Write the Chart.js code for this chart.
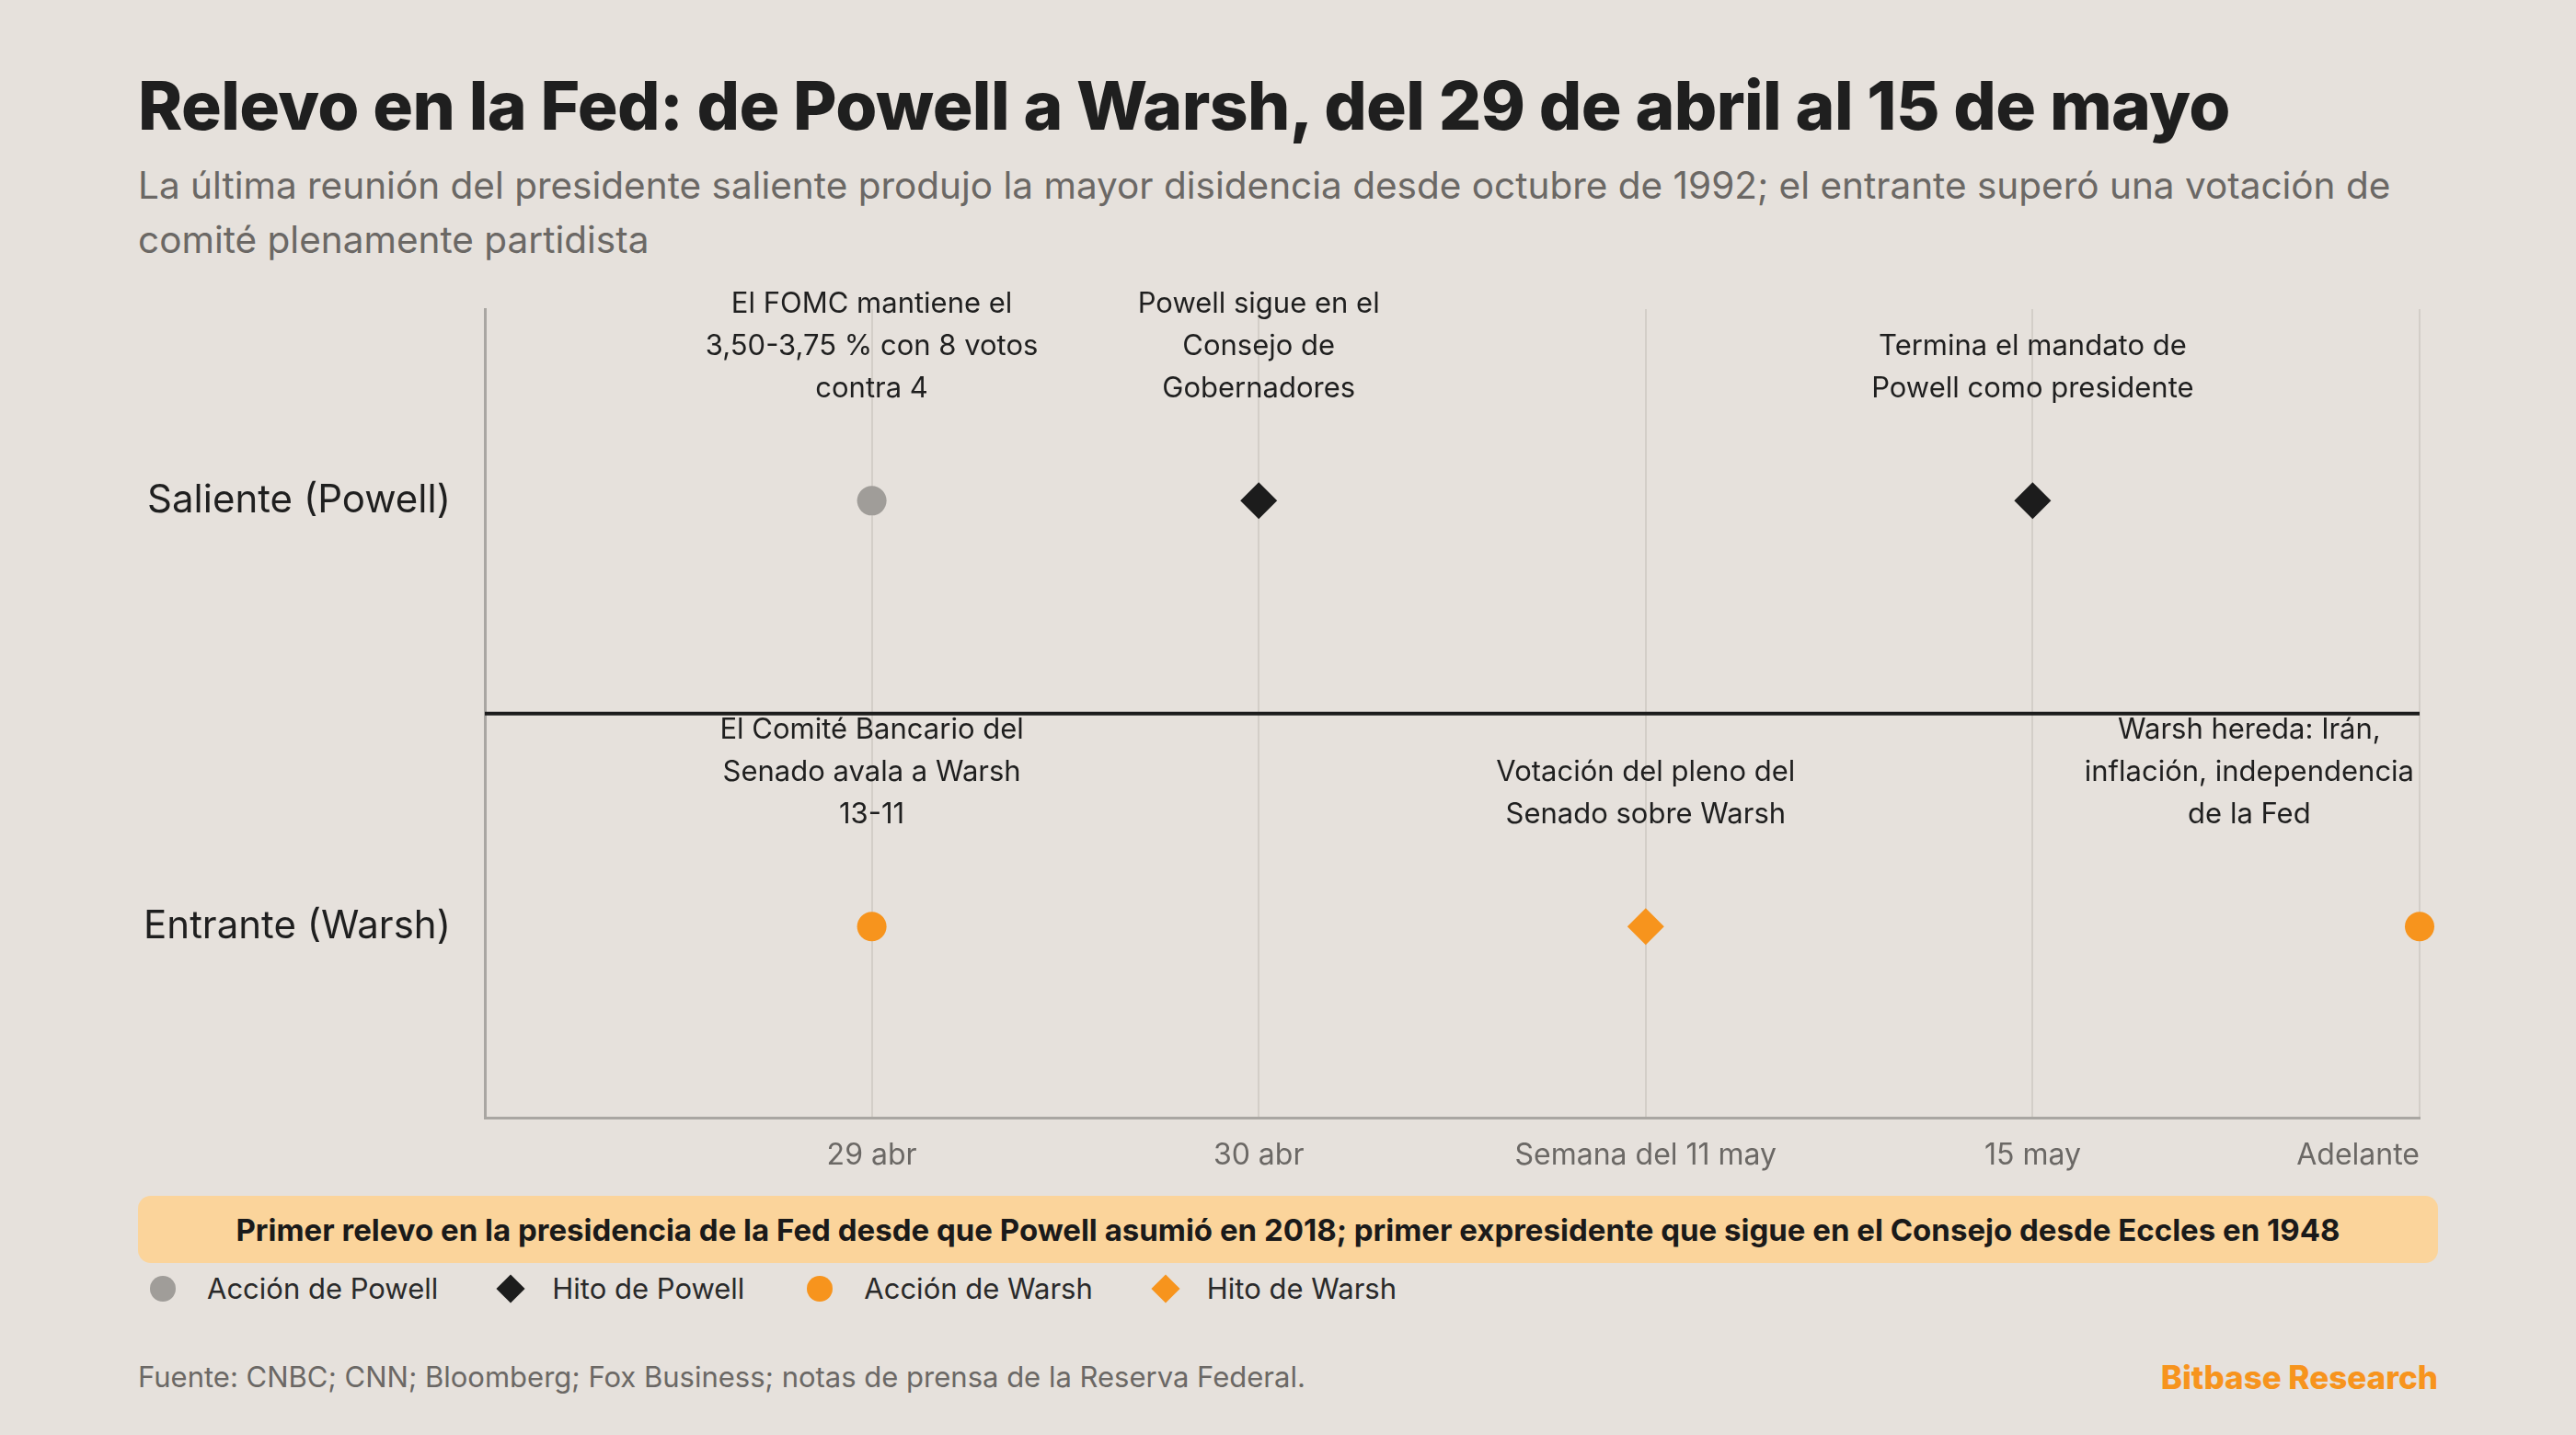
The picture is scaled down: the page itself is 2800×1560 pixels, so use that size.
<!DOCTYPE html>
<html><head><meta charset="utf-8">
<script src="https://cdn.jsdelivr.net/npm/chart.js@4"></script>
<style>
body{margin:0;width:2800px;height:1560px;background:#e6e1dc;font-family:Inter,"Noto Sans",sans-serif;position:relative;overflow:hidden;color:#1f1f1f}
#title{position:absolute;left:150px;top:70px;font-size:73px;font-weight:800;letter-spacing:-0.6px}
#sub{position:absolute;left:150px;top:172px;width:2500px;font-size:40.5px;line-height:59px;color:#6b6865}
#wrap{position:absolute;left:0;top:300px;width:2800px;height:998px}
#banner{position:absolute;left:150px;top:1300px;width:2500px;height:73px;background:#fbd49b;border-radius:14px;display:flex;align-items:center;justify-content:center;font-size:33px;font-weight:700;color:#1a1a1a}
#legend{position:absolute;left:163px;top:1382px;display:flex;gap:0;font-size:31px;color:#2a2a2a}
#legend div{display:flex;align-items:center;margin-right:68px}
#legend span{display:inline-block;margin-right:34px}
#src{position:absolute;left:150px;top:1478px;font-size:31px;color:#6b6865}
#brand{position:absolute;right:150px;top:1476px;font-size:35px;font-weight:800;color:#f7941d}
</style></head><body>
<div id="title">Relevo en la Fed: de Powell a Warsh, del 29 de abril al 15 de mayo</div>
<div id="sub">La última reunión del presidente saliente produjo la mayor disidencia desde octubre de 1992; el entrante superó una votación de comité plenamente partidista</div>
<div id="wrap"><canvas id="c"></canvas></div>
<div id="banner">Primer relevo en la presidencia de la Fed desde que Powell asumió en 2018; primer expresidente que sigue en el Consejo desde Eccles en 1948</div>
<div id="legend">
<div><span style="width:28px;height:28px;border-radius:50%;background:#a09d99"></span>Acción de Powell</div>
<div><span style="width:22px;height:22px;transform:rotate(45deg);background:#1c1c1c"></span>Hito de Powell</div>
<div><span style="width:28px;height:28px;border-radius:50%;background:#f7941d"></span>Acción de Warsh</div>
<div><span style="width:22px;height:22px;transform:rotate(45deg);background:#f7941d"></span>Hito de Warsh</div>
</div>
<div id="src">Fuente: CNBC; CNN; Bloomberg; Fox Business; notas de prensa de la Reserva Federal.</div>
<div id="brand">Bitbase Research</div>
<script>
const categories=["29 abr","30 abr","Semana del 11 may","15 may","Adelante"];
const rows=["Saliente (Powell)","Entrante (Warsh)"];
const powellAction=[{x:0,y:1}];
const powellMilestone=[{x:1,y:1},{x:3,y:1}];
const warshAction=[{x:0,y:0},{x:4,y:0}];
const warshMilestone=[{x:2,y:0}];
const annotations=[
 {x:0,y:1,text:["El FOMC mantiene el","3,50-3,75 % con 8 votos","contra 4"]},
 {x:1,y:1,text:["Powell sigue en el","Consejo de","Gobernadores"]},
 {x:3,y:1,text:["Termina el mandato de","Powell como presidente"]},
 {x:0,y:0,text:["El Comité Bancario del","Senado avala a Warsh","13-11"]},
 {x:2,y:0,text:["Votación del pleno del","Senado sobre Warsh"]},
 {x:4,y:0,text:["Warsh hereda: Irán,","inflación, independencia","de la Fed"]}
];
const FONT='Inter, "Noto Sans", sans-serif';
const textPlugin={id:'txt',afterDatasetsDraw(ch){
 const c=ch.ctx,xs=ch.scales.x,ys=ch.scales.y,a=ch.chartArea;
 c.save();c.font='31px '+FONT;c.fillStyle='#1f1f1f';c.textAlign='center';c.textBaseline='alphabetic';
 annotations.forEach(an=>{
  let px=xs.getPixelForValue(an.x),py=ys.getPixelForValue(an.y);
  const w=Math.max(...an.text.map(t=>c.measureText(t).width));
  px=Math.min(px,a.right-w/2-6);
  const n=an.text.length;
  an.text.forEach((t,i)=>c.fillText(t,px,py-112-(n-1-i)*46));
 });
 c.font='42px '+FONT;c.textAlign='right';c.textBaseline='middle';
 c.fillText(rows[0],a.left-37,ys.getPixelForValue(1));
 c.fillText(rows[1],a.left-37,ys.getPixelForValue(0));
 c.restore();
}};
new Chart(document.getElementById('c'),{
 type:'scatter',
 data:{datasets:[
  {type:'line',data:[{x:-1,y:0.5},{x:4,y:0.5}],borderColor:'#1c1c1c',borderWidth:4,pointRadius:0,order:5},
  {data:powellAction,backgroundColor:'#a09d99',borderWidth:0,pointRadius:16,pointStyle:'circle'},
  {data:powellMilestone,backgroundColor:'#1c1c1c',borderWidth:0,pointRadius:20,pointStyle:'rectRot'},
  {data:warshAction,backgroundColor:'#f7941d',borderWidth:0,pointRadius:16,pointStyle:'circle'},
  {data:warshMilestone,backgroundColor:'#f7941d',borderWidth:0,pointRadius:20,pointStyle:'rectRot'}
 ]},
 options:{responsive:true,maintainAspectRatio:false,animation:false,clip:false,
  layout:{padding:{left:527,right:170,top:36,bottom:0}},
  plugins:{legend:{display:false},tooltip:{enabled:false}},
  scales:{
   x:{type:'linear',min:-1,max:4,
    ticks:{stepSize:1,autoSkip:false,align:'inner',padding:22,color:'#6b6865',font:{size:32,family:FONT},
     callback:v=>v>=0?categories[v]:''},
    grid:{drawTicks:false,color:ctx=>ctx.tick&&ctx.tick.value>=0?'#d3cec8':'rgba(0,0,0,0)',lineWidth:2},
    border:{color:'#a9a6a2',width:3}},
   y:{min:-0.45,max:1.45,ticks:{display:false},grid:{display:false,drawTicks:false},
    border:{color:'#a9a6a2',width:3}}
  }},
 plugins:[textPlugin]
});
</script></body></html>
